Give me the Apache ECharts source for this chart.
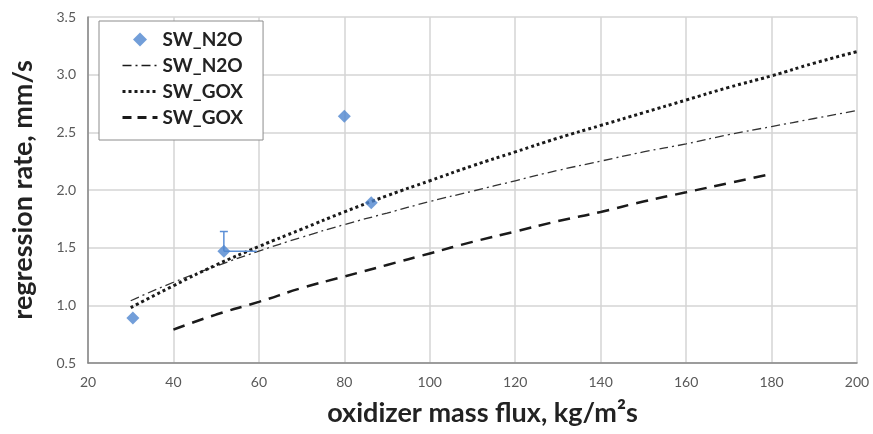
<!DOCTYPE html>
<html>
<head>
<meta charset="utf-8">
<script src="https://cdn.jsdelivr.net/npm/echarts@6/dist/echarts.min.js"></script>
<style>
  html, body { margin: 0; padding: 0; background: #fff; }
  #chart { width: 873px; height: 434px; }
</style>
</head>
<body>
<div id="chart"></div>
<script>
// measured points (SW_N2O)
const pointsN2O = [[30.5, 0.89], [51.8, 1.47], [80, 2.64], [86.3, 1.89]];
// error bar on the 52 kg/m2s point: [x, y, yHigh, xHigh]
const errorBars = [[51.8, 1.47, 1.64, 59.5]];

// fitted curves
const fitN2O = [[30, 1.04], [40, 1.20], [50, 1.34], [60, 1.47], [70, 1.59], [80, 1.70], [90, 1.80],
    [100, 1.90], [110, 1.99], [120, 2.08], [130, 2.17], [140, 2.25], [150, 2.33], [160, 2.40],
    [170, 2.48], [180, 2.55], [190, 2.62], [200, 2.69]];
const fitGOXdotted = [[30, 0.98], [40, 1.17], [50, 1.35], [60, 1.51], [70, 1.66], [80, 1.81], [90, 1.95],
    [100, 2.08], [110, 2.21], [120, 2.33], [130, 2.45], [140, 2.56], [150, 2.67], [160, 2.78],
    [170, 2.89], [180, 2.99], [190, 3.10], [200, 3.20]];
const fitGOXdashed = [[40, 0.79], [50, 0.92], [60, 1.03], [70, 1.15], [80, 1.25], [90, 1.35], [100, 1.45],
    [110, 1.55], [120, 1.64], [130, 1.73], [140, 1.81], [150, 1.90], [160, 1.98], [170, 2.06], [180, 2.14]];

const chart = echarts.init(document.getElementById('chart'));
const font = 'Lato, "Open Sans", sans-serif';
const blue = '#4f86cf';
const ink = '#1a1a1a';

const dashDot = [9, 4, 2, 4];
const dots = [3, 3];
const dashes = [12, 8];

chart.setOption({
    animation: false,
    textStyle: { fontFamily: font },
    grid: { left: 88, right: 16, top: 17, bottom: 71 },
    legend: {
        orient: 'vertical',
        left: 99,
        top: 21,
        padding: [9, 20, 13, 22],
        itemGap: 7,
        itemWidth: 35,
        itemHeight: 14,
        symbolKeepAspect: true,
        backgroundColor: '#fff',
        borderColor: '#8c8c8c',
        borderWidth: 1,
        textStyle: { fontFamily: font, fontSize: 19, fontWeight: 'bold', color: '#222' },
        data: [
            { name: 'SW_N2O', icon: 'path://M0,-1L1,0L0,1L-1,0Z', itemStyle: { color: blue } },
            { name: 'SW_N2O ', itemStyle: { opacity: 0 }, lineStyle: { color: ink, width: 1.5, type: dashDot } },
            { name: 'SW_GOX', itemStyle: { opacity: 0 }, lineStyle: { color: ink, width: 3, type: dots } },
            { name: 'SW_GOX ', itemStyle: { opacity: 0 }, lineStyle: { color: ink, width: 3, type: [9, 6] } }
        ],
        formatter: name => name.trim()
    },
    xAxis: {
        type: 'value',
        min: 20,
        max: 200,
        interval: 20,
        name: 'oxidizer mass flux, kg/m²s',
        nameLocation: 'middle',
        nameGap: 37,
        nameTextStyle: { fontFamily: font, fontSize: 27, fontWeight: 'bold', color: '#222', padding: [0, 0, 0, 20] },
        axisLine: { lineStyle: { color: '#868686', width: 1.5 } },
        axisTick: { show: false },
        axisLabel: { fontSize: 14, color: '#595959', margin: 12 },
        splitLine: { lineStyle: { color: '#d4d4d4', width: 1.5 } }
    },
    yAxis: {
        type: 'value',
        min: 0.5,
        max: 3.5,
        interval: 0.5,
        name: 'regression rate, mm/s',
        nameLocation: 'middle',
        nameGap: 51,
        nameTextStyle: { fontFamily: font, fontSize: 27, fontWeight: 'bold', color: '#222' },
        axisLine: { show: true, lineStyle: { color: '#868686', width: 1.5 } },
        axisTick: { show: false },
        axisLabel: { fontSize: 14, color: '#595959', margin: 12, formatter: v => v.toFixed(1) },
        splitLine: { lineStyle: { color: '#d4d4d4', width: 1.5 } }
    },
    series: [
        {
            name: 'SW_N2O ',
            type: 'line',
            data: fitN2O,
            smooth: true,
            symbol: 'none',
            itemStyle: { color: ink },
            lineStyle: { color: '#333', width: 1.3, type: dashDot },
            z: 3
        },
        {
            name: 'SW_GOX',
            type: 'line',
            data: fitGOXdotted,
            smooth: true,
            symbol: 'none',
            itemStyle: { color: ink },
            lineStyle: { color: ink, width: 3, type: dots },
            z: 3
        },
        {
            name: 'SW_GOX ',
            type: 'line',
            data: fitGOXdashed,
            smooth: true,
            symbol: 'none',
            itemStyle: { color: ink },
            lineStyle: { color: ink, width: 2.5, type: dashes },
            z: 3
        },
        {
            name: 'errorbar',
            type: 'custom',
            data: errorBars,
            renderItem: (params, api) => {
                const p = api.coord([api.value(0), api.value(1)]);
                const top = api.coord([api.value(0), api.value(2)]);
                const right = api.coord([api.value(3), api.value(1)]);
                const style = { stroke: '#5b8fd6', lineWidth: 1.5 };
                return {
                    type: 'group',
                    children: [
                        { type: 'line', shape: { x1: p[0], y1: p[1], x2: top[0], y2: top[1] }, style },
                        { type: 'line', shape: { x1: top[0] - 4, y1: top[1], x2: top[0] + 4, y2: top[1] }, style },
                        { type: 'line', shape: { x1: p[0], y1: p[1], x2: right[0], y2: right[1] }, style }
                    ]
                };
            },
            z: 4
        },
        {
            name: 'SW_N2O',
            type: 'scatter',
            data: pointsN2O,
            symbol: 'diamond',
            symbolSize: 13,
            itemStyle: { color: blue },
            z: 5
        }
    ]
});
</script>
</body>
</html>
